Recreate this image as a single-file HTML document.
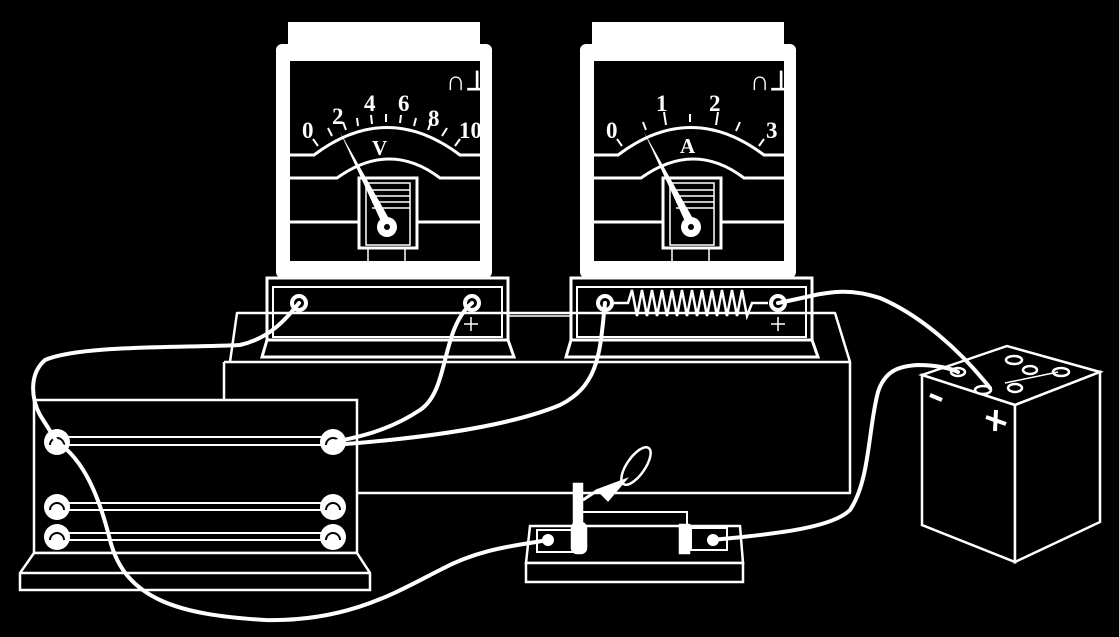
<!DOCTYPE html>
<html><head><meta charset="utf-8"><style>
html,body{margin:0;padding:0;background:#000;}
svg{display:block}
text{font-family:"Liberation Serif",serif;fill:#fff;}
</style></head><body>
<svg width="1119" height="637" viewBox="0 0 1119 637" xmlns="http://www.w3.org/2000/svg">
<rect width="1119" height="637" fill="#000"/>
<g fill="none" stroke="#fff" stroke-width="2.5" stroke-linejoin="round">
<path d="M230 362 L237 313 L835 313 L850 362 L850 493 L357 493"/>
<path d="M224 362 L850 362"/>
<path d="M224 362 L224 400"/>
</g>

<g>
 <rect x="288" y="22" width="192" height="26" fill="#fff"/>
 <rect x="276" y="44" width="216" height="234" rx="6" fill="#fff"/>
 <rect x="290" y="61" width="190" height="200" fill="#000"/>
 <g fill="none" stroke="#fff" stroke-width="3">
  <path d="M290 155 L314 155 Q387 100 460 155 L480 155"/>
  <path d="M290 178 L337 178 Q390 140 440 178 L480 178"/>
  <path d="M290 222 L359 222 M417 222 L480 222"/>
  <rect x="359" y="178" width="58" height="70" fill="#000"/>
  <rect x="366" y="183" width="44" height="62" stroke-width="1.5"/>
  <path d="M372 190 L410 190 M372 196 L410 196 M372 202 L410 202 M372 208 L410 208" stroke-width="1.5"/>
  <path d="M368 248 L368 262 M405 248 L405 262" stroke-width="1.5"/>
  <path d="M318 146 L313 139 M332 136 L328 128 M346 130 L343 122 M358 126 L357 118 M372 124 L371 115 M386 122 L386 114 M400 123 L401 115 M414 126 L416 118 M428 130 L431 122 M442 136 L447 128 M455 146 L460 139" stroke-width="2"/>
 </g>
 <path d="M340 132 L392 224 L384 228 Z" fill="#fff"/>
 <circle cx="387" cy="227" r="10" fill="#fff"/>
 <circle cx="387" cy="227" r="3" fill="#000"/>
 <text x="446" y="90" font-size="27" font-weight="bold">∩⊥</text>
</g>
<g transform="translate(304,0)">
 <rect x="288" y="22" width="192" height="26" fill="#fff"/>
 <rect x="276" y="44" width="216" height="234" rx="6" fill="#fff"/>
 <rect x="290" y="61" width="190" height="200" fill="#000"/>
 <g fill="none" stroke="#fff" stroke-width="3">
  <path d="M290 155 L314 155 Q387 100 460 155 L480 155"/>
  <path d="M290 178 L337 178 Q390 140 440 178 L480 178"/>
  <path d="M290 222 L359 222 M417 222 L480 222"/>
  <rect x="359" y="178" width="58" height="70" fill="#000"/>
  <rect x="366" y="183" width="44" height="62" stroke-width="1.5"/>
  <path d="M372 190 L410 190 M372 196 L410 196 M372 202 L410 202 M372 208 L410 208" stroke-width="1.5"/>
  <path d="M368 248 L368 262 M405 248 L405 262" stroke-width="1.5"/>
  <path d="M318 146 L313 139 M342 130 L339 122 M362 125 L360 112 M386 122 L386 114 M412 125 L414 112 M432 131 L436 122 M455 146 L460 139" stroke-width="2"/>
 </g>
 <path d="M340 132 L392 224 L384 228 Z" fill="#fff"/>
 <circle cx="387" cy="227" r="10" fill="#fff"/>
 <circle cx="387" cy="227" r="3" fill="#000"/>
 <text x="446" y="90" font-size="27" font-weight="bold">∩⊥</text>
</g>
<g font-size="23" font-weight="bold">
<text x="302" y="138">0</text><text x="332" y="124">2</text><text x="364" y="111">4</text><text x="398" y="111">6</text><text x="428" y="126">8</text><text x="459" y="138">10</text>
<text x="372" y="155" font-size="21">V</text>
<text x="606" y="138">0</text><text x="656" y="111">1</text><text x="709" y="111">2</text><text x="766" y="138">3</text>
<text x="680" y="153" font-size="21">A</text>
</g>

<g fill="none" stroke="#fff" stroke-width="3">
 <path d="M267 278 L508 278 L508 340 L267 340 Z"/>
 <rect x="273" y="287" width="229" height="50" stroke-width="2"/>
 <path d="M267 340 L262 357 L514 357 L508 340"/>
 <path d="M571 278 L812 278 L812 340 L571 340 Z"/>
 <rect x="577" y="287" width="229" height="50" stroke-width="2"/>
 <path d="M571 340 L566 357 L818 357 L812 340"/>
 <path d="M508 316 L571 316" stroke-width="1.5"/>
 <path d="M614 303 L628 303 L632 290 L637 316 L642 290 L647 316 L652 290 L657 316 L662 290 L667 316 L672 290 L677 316 L682 290 L687 316 L692 290 L697 316 L702 290 L707 316 L712 290 L717 316 L722 290 L727 316 L732 290 L737 316 L742 290 L747 316 L752 303 L768 303" stroke-width="2.5"/>
</g>
<g fill="#000" stroke="#fff" stroke-width="4">
 <circle cx="299" cy="303" r="7"/><circle cx="472" cy="303" r="7"/>
 <circle cx="605" cy="303" r="7"/><circle cx="778" cy="303" r="7"/>
</g>
<g stroke="#fff" stroke-width="1.5">
 <path d="M464 324 L478 324 M471 317 L471 331 M771 324 L785 324 M778 317 L778 331"/>
</g>

<g fill="#000" stroke="#fff" stroke-width="2.5">
 <rect x="34" y="400" width="323" height="153"/>
 <path d="M34 553 L20 573 L20 590 L370 590 L370 573 L357 553 Z"/>
 <path d="M20 573 L370 573" fill="none"/>
</g>
<g fill="none" stroke="#fff" stroke-width="2">
 <path d="M57 437 L333 437 M57 445 L333 445"/>
 <path d="M57 503 L333 503 M57 510 L333 510"/>
 <path d="M57 533 L333 533 M57 540 L333 540"/>
</g>
<g fill="#fff">
 <circle cx="57" cy="442" r="13"/><circle cx="333" cy="442" r="13"/>
 <circle cx="57" cy="507" r="13"/><circle cx="333" cy="507" r="13"/>
 <circle cx="57" cy="537" r="13"/><circle cx="333" cy="537" r="13"/>
</g>
<g fill="none" stroke="#000" stroke-width="2">
 <path d="M50 445 A7 7 0 0 1 64 445"/><path d="M326 445 A7 7 0 0 1 340 445"/>
 <path d="M50 510 A7 7 0 0 1 64 510"/><path d="M326 510 A7 7 0 0 1 340 510"/>
 <path d="M50 540 A7 7 0 0 1 64 540"/><path d="M326 540 A7 7 0 0 1 340 540"/>
</g>

<g fill="#000" stroke="#fff" stroke-width="2.5">
 <path d="M530 526 L740 526 L743 563 L526 563 Z"/>
 <rect x="526" y="563" width="217" height="19"/>
 <rect x="537" y="530" width="36" height="22" stroke-width="2"/>
 <rect x="691" y="528" width="36" height="22" stroke-width="2"/>
 <path d="M580 512 L687 512 L687 530" fill="none" stroke-width="2"/>
 <rect x="574" y="484" width="8" height="45" fill="#fff"/>
 <rect x="572" y="523" width="14" height="30" rx="5" fill="#fff"/>
 <rect x="680" y="525" width="9" height="28" fill="#fff"/>
 <ellipse cx="636" cy="466" rx="22" ry="9" transform="rotate(-55 636 466)" fill="#000"/>
 <path d="M598 490 L625 480 L608 500 Z" fill="#fff"/>
 <path d="M583 500 L598 490" fill="none" stroke-width="3"/>
</g>

<g fill="#000" stroke="#fff" stroke-width="2.5">
 <path d="M922 375 L1007 346 L1100 372 L1015 405 Z"/>
 <path d="M922 375 L1015 405 L1015 562 L922 525 Z"/>
 <path d="M1015 405 L1100 372 L1100 522 L1015 562 Z"/>
 <ellipse cx="958" cy="372" rx="7" ry="4"/>
 <ellipse cx="983" cy="390" rx="8" ry="4"/>
 <ellipse cx="1014" cy="360" rx="8" ry="4"/>
 <ellipse cx="1030" cy="370" rx="7" ry="4"/>
 <ellipse cx="1015" cy="388" rx="7" ry="4"/>
 <ellipse cx="1061" cy="372" rx="8" ry="4"/>
 <path d="M1005 383 L1058 372" fill="none" stroke-width="1.5"/>
</g>
<path d="M930 395 L942 400" stroke="#fff" stroke-width="4"/>
<path d="M986 417 L1006 424 M996 410 L995 431" stroke="#fff" stroke-width="4"/>

<g fill="none" stroke="#fff" stroke-width="4" stroke-linecap="round">
 <path d="M299 303 C285 320 270 338 240 345 C180 348 80 345 45 360 C28 375 32 400 40 415 L57 442"/>
 <path d="M472 303 C440 330 450 390 420 410 C390 430 360 437 333 442"/>
 <path d="M605 303 C600 350 600 385 560 405 C500 430 400 440 333 445"/>
 <path d="M57 442 C85 460 100 500 110 540 C125 600 180 615 265 620 C350 622 400 590 440 570 C480 548 520 545 548 540"/>
 <path d="M713 540 C760 535 830 530 850 510 C870 480 868 430 878 392 C885 370 900 366 918 365 C935 365 950 368 958 372"/>
 <path d="M778 303 C820 295 840 285 880 298 C920 315 960 350 990 388"/>
</g>
<g fill="#fff">
 <circle cx="548" cy="540" r="6"/><circle cx="713" cy="540" r="6"/>
</g>
</svg>
</body></html>
